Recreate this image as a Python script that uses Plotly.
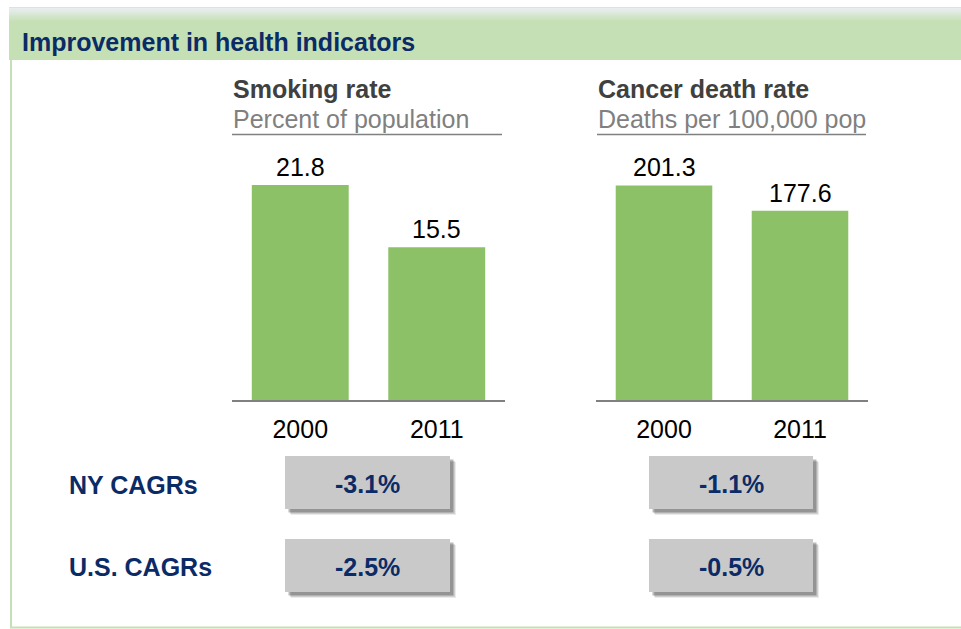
import plotly.graph_objects as go

W, H = 961, 629

# ---------------- data ----------------
years = ["2000", "2011"]
smoking_rate = [21.8, 15.5]
cancer_death_rate = [201.3, 177.6]

header_title = "Improvement in health indicators"
chart_titles = ["Smoking rate", "Cancer death rate"]
chart_subtitles = ["Percent of population", "Deaths per 100,000 pop"]

row_labels = ["NY CAGRs", "U.S. CAGRs"]
ny_cagrs = ["-3.1%", "-1.1%"]
us_cagrs = ["-2.5%", "-0.5%"]

# ---------------- style ----------------
FONT = "Arial, Liberation Sans, sans-serif"
FS = 25
NAVY = "#0b2b66"
GREEN_BAR = "#8cc168"
GREEN_LIGHT = "#c5e0b4"
AXIS_GRAY = "#808080"
BOX_GRAY = "#c9c9c9"


def px(x):
    return x / W


def py(y):
    return 1 - y / H


fig = go.Figure()

# chart geometry (pixels)
charts = [
    dict(x0=232, x1=505, vals=smoking_rate, scale=9.86, tx=232, ux1=502),
    dict(x0=596, x1=868, vals=cancer_death_rate, scale=1.066, tx=597, ux1=866),
]
base_y, top_y = 400, 150

for i, c in enumerate(charts):
    xa = "x" if i == 0 else "x2"
    ya = "y" if i == 0 else "y2"
    fig.add_trace(go.Bar(
        x=years, y=c["vals"], xaxis=xa, yaxis=ya,
        marker=dict(color=GREEN_BAR, line=dict(width=0)),
        hoverinfo="skip", showlegend=False,
    ))
    # value labels (category index j on the category axis)
    for j, v in enumerate(c["vals"]):
        fig.add_annotation(
            x=j, y=v, xref=xa, yref=ya, text=f"{v:.1f}", showarrow=False,
            yanchor="bottom", yshift=2,
            font=dict(family=FONT, size=FS, color="#000000"),
        )
    rng = (base_y - top_y) / c["scale"]
    axkey = "xaxis" if i == 0 else "xaxis2"
    aykey = "yaxis" if i == 0 else "yaxis2"
    fig.update_layout(**{
        axkey: dict(
            domain=[px(c["x0"]), px(c["x1"])], anchor=ya,
            type="category", categoryorder="array", categoryarray=years,
            range=[-0.5, len(years) - 0.5], autorange=False,
            showline=True, linecolor=AXIS_GRAY, linewidth=2,
            ticks="outside", ticklen=6, tickcolor="rgba(0,0,0,0)",
            tickfont=dict(family=FONT, size=FS, color="#000000"),
            showgrid=False, zeroline=False, fixedrange=True, automargin=False,
        ),
        aykey: dict(
            domain=[py(base_y), py(top_y)], anchor=xa, range=[0, rng], autorange=False,
            visible=False, fixedrange=True, automargin=False,
        ),
    })
    # titles
    fig.add_annotation(
        x=px(c["tx"]), y=py(89), xref="paper", yref="paper", text=f"<b>{chart_titles[i]}</b>",
        showarrow=False, xanchor="left", yanchor="middle", xshift=-1,
        font=dict(family=FONT, size=FS, color="#404040"),
    )
    fig.add_annotation(
        x=px(c["tx"]), y=py(118.5), xref="paper", yref="paper", text=chart_subtitles[i],
        showarrow=False, xanchor="left", yanchor="middle", xshift=-1,
        font=dict(family=FONT, size=FS, color=AXIS_GRAY),
    )
    fig.add_shape(type="line", xref="paper", yref="paper",
                  x0=px(c["tx"]), x1=px(c["ux1"]), y0=py(134.5), y1=py(134.5),
                  line=dict(color=AXIS_GRAY, width=1.5))

shapes = []
# header band
shapes.append(dict(type="rect", xref="paper", yref="paper", x0=px(9), x1=px(W + 2),
                   y0=py(60), y1=py(7), fillcolor=GREEN_LIGHT, line=dict(width=0), layer="below"))
top_c = (232, 238, 240)
bot_c = (197, 224, 180)
steps = 14
for k in range(steps):
    t = k / (steps - 1)
    col = tuple(round(top_c[j] + (bot_c[j] - top_c[j]) * t) for j in range(3))
    shapes.append(dict(type="rect", xref="paper", yref="paper", x0=px(9), x1=px(W + 2),
                       y0=py(8 + k + 1), y1=py(8 + k), fillcolor="rgb(%d,%d,%d)" % col,
                       line=dict(width=0), layer="below"))
shapes.append(dict(type="line", xref="paper", yref="paper", x0=px(9), x1=px(W + 2),
                   y0=py(7.5), y1=py(7.5), line=dict(color="#dfe3cf", width=1), layer="below"))
# content border (left + bottom)
shapes.append(dict(type="line", xref="paper", yref="paper", x0=px(11), x1=px(11),
                   y0=py(60), y1=py(628), line=dict(color=GREEN_LIGHT, width=2), layer="below"))
shapes.append(dict(type="line", xref="paper", yref="paper", x0=px(10), x1=px(W + 2),
                   y0=py(627.5), y1=py(627.5), line=dict(color=GREEN_LIGHT, width=2), layer="below"))
for s in shapes:
    fig.add_shape(**s)

fig.add_annotation(
    x=px(21), y=py(42), xref="paper", yref="paper", text=f"<b>{header_title}</b>",
    showarrow=False, xanchor="left", yanchor="middle", xshift=-1,
    font=dict(family=FONT, size=FS, color=NAVY),
)

# CAGR rows
rows = [(ny_cagrs, 456, 509, 485), (us_cagrs, 539, 592, 567)]
box_x = [(285, 450), (649, 813)]
for r, (vals, y0, y1, ly) in enumerate(rows):
    fig.add_annotation(
        x=px(68), y=py(ly), xref="paper", yref="paper", text=f"<b>{row_labels[r]}</b>",
        showarrow=False, xanchor="left", yanchor="middle", xshift=-1,
        font=dict(family=FONT, size=FS, color=NAVY),
    )
    for (bx0, bx1), v in zip(box_x, vals):
        for off, col in [(6, "rgba(0,0,0,0.08)"), (5, "rgba(0,0,0,0.12)"), (3.5, "rgba(0,0,0,0.28)")]:
            fig.add_shape(type="rect", xref="paper", yref="paper",
                          x0=px(bx0 + off), x1=px(bx1 + off), y0=py(y1 + off), y1=py(y0 + off),
                          fillcolor=col, line=dict(width=0))
        fig.add_shape(type="rect", xref="paper", yref="paper",
                      x0=px(bx0), x1=px(bx1), y0=py(y1), y1=py(y0),
                      fillcolor=BOX_GRAY, line=dict(width=0))
        fig.add_annotation(
            x=px((bx0 + bx1) / 2), y=py((y0 + y1) / 2 + 1.5), xref="paper", yref="paper",
            text=f"<b>{v}</b>", showarrow=False, xanchor="center", yanchor="middle",
            font=dict(family=FONT, size=FS, color=NAVY),
        )

fig.update_layout(
    template="none",
    width=W, height=H, autosize=False,
    margin=dict(l=0, r=0, t=0, b=0, pad=0),
    paper_bgcolor="white", plot_bgcolor="rgba(0,0,0,0)",
    bargap=0.29, showlegend=False,
    font=dict(family=FONT, color="#000000"),
)

fig.write_html("out.html", config={"displayModeBar": False},
               post_script="document.body.style.margin='0';document.body.style.overflow='hidden';")
